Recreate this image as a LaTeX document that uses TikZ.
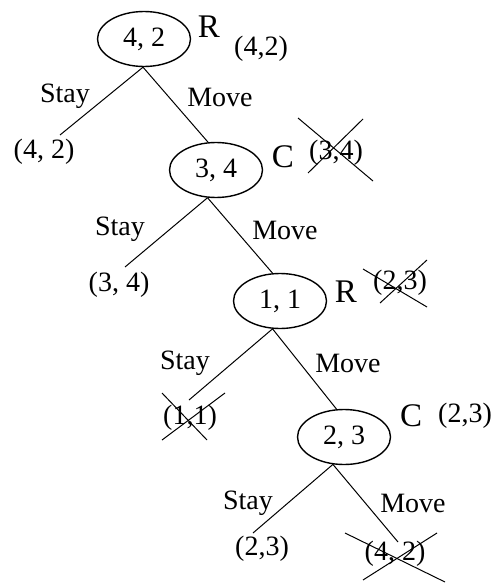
\documentclass[tikz,border=0pt]{standalone}
\usepackage{fontspec}
\setmainfont{Liberation Serif}
\usetikzlibrary{shapes.geometric}
\begin{document}
\begin{tikzpicture}[x=1pt,y=-1pt,
  state/.style={draw, ellipse, line width=1.4pt, minimum width=93pt, minimum height=55pt,
    inner sep=0pt, font=\fontsize{28}{30}\selectfont},
  lbl/.style={font=\fontsize{28}{30}\selectfont, inner sep=0pt},
  who/.style={font=\fontsize{33}{35}\selectfont, inner sep=0pt},
  branch/.style={line width=1pt},
  strike/.style={line width=1pt}]
\useasboundingbox (0,0) rectangle (499,583);

% decision nodes
\node[state] (e1) at (144,39)  {\raisebox{-2pt}{4, 2}};
\node[state] (e2) at (216,170) {\raisebox{-4pt}{3, 4}};
\node[state] (e3) at (280,301) {\raisebox{-5pt}{1, 1}};
\node[state] (e4) at (344,437) {\raisebox{-4pt}{2, 3}};

% player marks and backed-up values
\node[who] (p1) at (209,27)  {R};
\node[lbl] (v1) at (261,49)  {(4,2)};
\node[who] (p2) at (283,157) {C};
\node[lbl] (v2) at (336,153) {(3,4)};
\node[who] (p3) at (346,292) {R};
\node[lbl] (v3) at (400,283) {(2,3)};
\node[who] (p4) at (411,416) {C};
\node[lbl] (v4) at (465,416) {(2,3)};

% leaf outcomes
\node[lbl] (l1) at (44,152)  {(4, 2)};
\node[lbl] (l2) at (119,285) {(3, 4)};
\node[lbl] (l3) at (190,418) {(1,1)};
\node[lbl] (l4) at (262,549) {(2,3)};
\node[lbl] (l5) at (395,554) {(4, 2)};

% loose ends of the Stay / Move branches
\coordinate (s1) at (60,135);
\coordinate (s2) at (125,267);
\coordinate (s3) at (189,400);
\coordinate (s4) at (253,533);
\coordinate (m4) at (398,542);

% branches
\draw[branch] (e1.268) -- (s1);
\draw[branch] (e1.268) -- (e2.106);
\draw[branch] (e2.253) -- (s2);
\draw[branch] (e2.253) -- (e3.105);
\draw[branch] (e3.255) -- (s3);
\draw[branch] (e3.255) -- (e4.105);
\draw[branch] (e4.248) -- (s4);
\draw[branch] (e4.248) -- (m4);

% branch labels
\node[lbl] (a1) at (65,96)   {Stay};
\node[lbl] (b1) at (220,97)  {Move};
\node[lbl] (a2) at (120,229) {Stay};
\node[lbl] (b2) at (285,230) {Move};
\node[lbl] (a3) at (185,363) {Stay};
\node[lbl] (b3) at (348,363) {Move};
\node[lbl] (a4) at (248,503) {Stay};
\node[lbl] (b4) at (413,503) {Move};

% struck-out values
\draw[strike] (298,118) -- (373,181);
\draw[strike] (308,173) -- (363,119);
\draw[strike] (363,269) -- (427,307);
\draw[strike] (380,303) -- (427,260);
\draw[strike] (162,393) -- (207,440);
\draw[strike] (162,440) -- (225,393);
\draw[strike] (345,533) -- (445,582);
\draw[strike] (363,580) -- (437,533);
\end{tikzpicture}
\end{document}
